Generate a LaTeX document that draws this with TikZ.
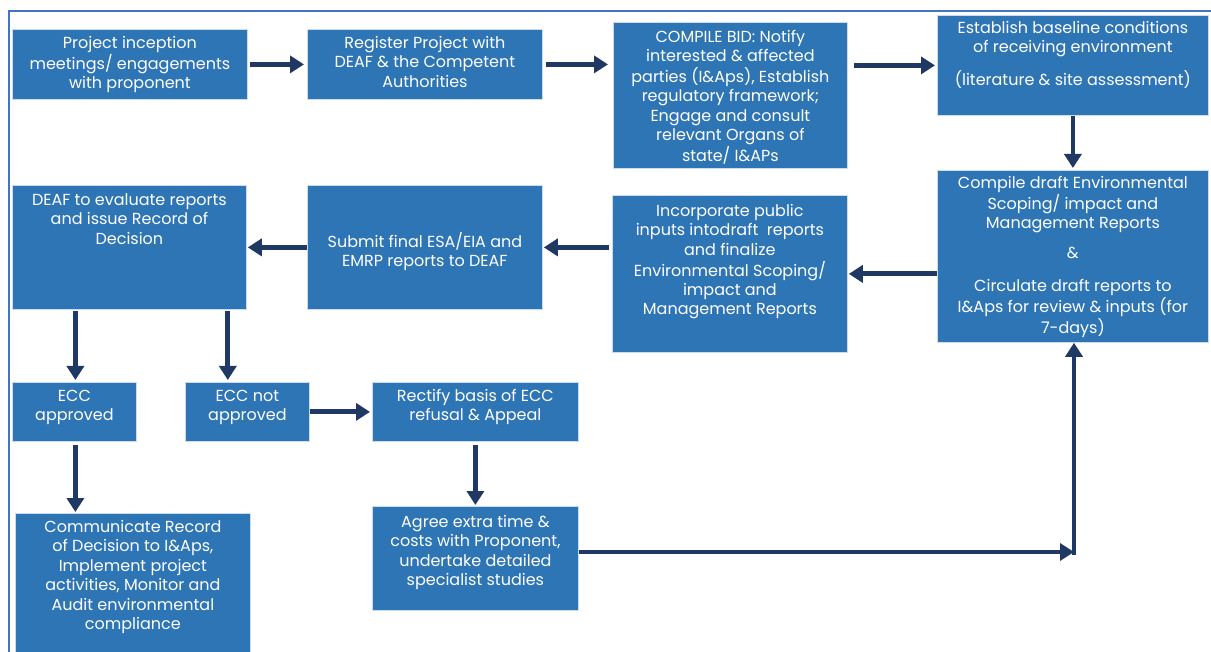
\documentclass[tikz,border=0pt]{standalone}
\usepackage{fontspec}
\setmainfont{Poppins}
\usetikzlibrary{arrows.meta}
\definecolor{boxblue}{RGB}{46,117,182}
\definecolor{arrowc}{RGB}{31,56,100}
\definecolor{framec}{RGB}{68,114,196}
\newcommand{\bx}[4]{\parbox[c][#2][t]{#1}{\noindent\rule{0pt}{#3}\makebox[#1]{\begin{tabular}[t]{@{}c@{}}#4\end{tabular}}}}
\tikzset{
  box/.style={fill=boxblue, draw=white!75!boxblue, line width=0.8pt, inner sep=0pt, anchor=north west,
    text=white, font=\fontsize{16}{19.4}\selectfont},
  arr/.style={draw=arrowc, line width=4.8pt, -{Triangle[length=14pt,width=17pt]}},
}
\begin{document}
\begin{tikzpicture}[x=1pt,y=-1pt]
\useasboundingbox (0,0) rectangle (1211,652);
\draw[framec, line width=2pt] (1212,11) -- (9,11) -- (9,653);

\node[box] (b1) at (12,29) {\bx{235pt}{70pt}{19pt}{Project inception\\meetings/ engagements\\with proponent}};
\node[box] (b2) at (307,29) {\bx{235pt}{70pt}{19pt}{Register Project with\\DEAF \& the Competent\\Authorities}};
\node[box] (b3) at (613,22) {\bx{234pt}{146pt}{20pt}{COMPILE BID: Notify\\interested \& affected\\parties (I\&Aps), Establish\\regulatory framework;\\Engage and consult\\relevant Organs of\\state/ I\&APs}};
\node[box] (b4) at (937,15) {\bx{271pt}{100pt}{18pt}{Establish baseline conditions\\of receiving environment\\[12pt](literature \& site assessment)}};
\node[box] (b5) at (937,170) {\bx{271pt}{172pt}{18pt}{Compile draft Environmental\\Scoping/ impact and\\Management Reports\\[10pt]\&\\[14pt]Circulate draft reports to\\I\&Aps for review \& inputs (for\\7-days)}};
\node[box] (b6) at (612,195) {\bx{235pt}{157pt}{21pt}{Incorporate public\\inputs intodraft\ \ reports\\and finalize\\Environmental Scoping/\\impact and\\Management Reports}};
\node[box] (b7) at (307,185) {\bx{235pt}{124pt}{62pt}{Submit final ESA/EIA and\\EMRP reports to DEAF}};
\node[box] (b8) at (12,185) {\bx{234pt}{124pt}{20pt}{DEAF to evaluate reports\\and issue Record of\\Decision}};
\node[box] (b9) at (12,382) {\bx{124pt}{59pt}{19pt}{ECC\\approved}};
\node[box] (b10) at (185,382) {\bx{124pt}{59pt}{19pt}{ECC not\\approved}};
\node[box] (b11) at (372,382) {\bx{206pt}{59pt}{19pt}{Rectify basis of ECC\\refusal \& Appeal}};
\node[box] (b12) at (15,513) {\bx{235pt}{139pt}{19pt}{Communicate Record\\of Decision to I\&Aps,\\Implement project\\activities, Monitor and\\Audit environmental\\compliance}};
\node[box] (b13) at (372,506) {\bx{206pt}{104pt}{21pt}{Agree extra time \&\\costs with Proponent,\\undertake detailed\\specialist studies}};

\coordinate (c) at (1074,552);

\draw[arr, shorten <=2pt, shorten >=3pt] (b1.east) -- (b1.east -| b2.west);
\draw[arr, shorten <=3pt, shorten >=5pt] (b2.east) -- (b2.east -| b3.west);
\draw[arr, shorten <=6pt, shorten >=2pt] (b3.east |- b4.west) -- (b4.west);
\draw[arr, shorten >=2pt] (b4.south) -- (b5.north);
\draw[arr, shorten >=1pt] (b5.west |- b6.east) -- (b6.east);
\draw[arr, shorten <=3pt, shorten >=1pt] (b6.west |- b7.east) -- (b7.east);
\draw[arr, shorten >=1pt] (b7.west) -- (b8.east);
\draw[arr, shorten <=1pt, shorten >=2pt] ([xshift=1pt]b9.north |- b8.south) -- ([xshift=1pt]b9.north);
\draw[arr, shorten <=1pt, shorten >=2pt] ([xshift=-19pt]b8.south east) -- ([xshift=-19pt]b8.south east |- b10.north);
\draw[arr, shorten >=2pt] (b10.east) -- (b11.west);
\draw[arr, shorten <=3pt, shorten >=1pt] ([xshift=1pt]b9.south) -- ([xshift=1pt]b9.south |- b12.north);
\draw[arr, shorten <=3pt, shorten >=1pt] (b11.south) -- (b13.north);
\draw[arr, line width=4pt] (b13.east |- c) -- (c);
\draw[arr, line width=4pt] ([yshift=-3pt]c) -- (c |- b5.south);
\end{tikzpicture}
\end{document}
